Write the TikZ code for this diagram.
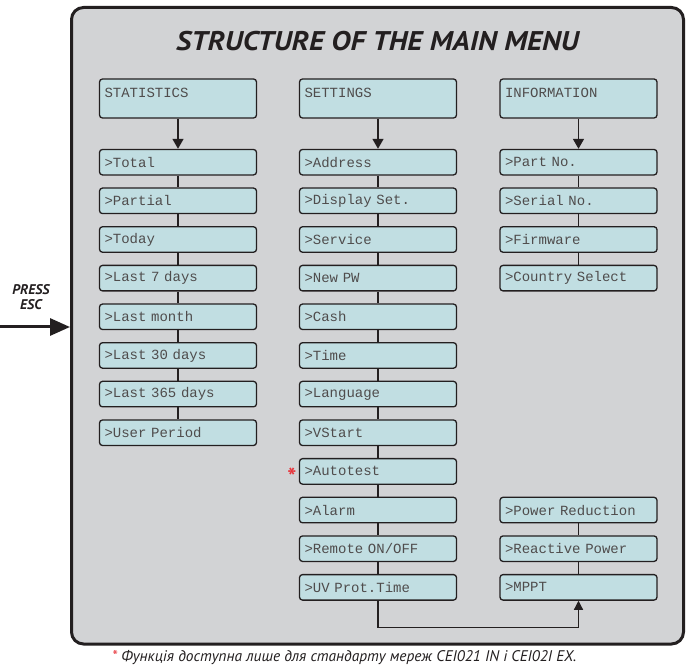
\documentclass[tikz,border=0pt]{standalone}
\usepackage{fontspec}
\setmainfont{PT Sans}
\newfontfamily\lcd{Liberation Mono}
\newfontfamily\titlefont[FakeStretch=1.1]{PT Sans}
\usetikzlibrary{arrows.meta}
\definecolor{bg}{HTML}{D2D3D5}
\definecolor{lcdfill}{HTML}{C1DEE2}
\definecolor{ink}{HTML}{231F20}
\definecolor{starred}{HTML}{E8353C}
\begin{document}
\begin{tikzpicture}[x=1pt,y=-1pt,
  frame/.style={draw=ink, line width=3pt, rounded corners=12pt, fill=bg, inner sep=0pt},
  item/.style={draw=ink, line width=1.3pt, rounded corners=3pt, fill=lcdfill,
    minimum width=157pt, minimum height=25.5pt, text width=147pt, align=left,
    inner sep=0pt, font=\lcd\fontsize{14}{14}\selectfont, text=ink!80},
  header/.style={item, minimum height=39pt, text height=19pt, text depth=20pt},
  link/.style={draw=ink, line width=1.2pt},
  down/.style={draw=ink, line width=1.6pt, -{Triangle[length=10pt,width=11pt]}},
  esc/.style={draw=ink, line width=3pt, -{Triangle[length=20pt,width=17pt]}}
]
\useasboundingbox (0,0) rectangle (686,668);
\fill[white] (0,0) rectangle (686,668);

% outer frame
\node[frame, minimum width=612pt, minimum height=636.5pt] (frame) at (377.5,325.75) {};

% title
\node[anchor=base, inner sep=0pt, font=\titlefont\fontsize{27}{27}\selectfont\bfseries\itshape, text=ink] (title) at (377.5,51) {STRUCTURE OF THE MAIN MENU};

% headers
\node[header] (hs) at (178,98.5) {STATISTICS};
\node[header] (hp) at (378,98.5) {SETTINGS};
\node[header] (hi) at (578.5,98.5) {INFORMATION};

% statistics column
\foreach \t [count=\i from 0] in {Total,Partial,Today,Last 7 days,Last month,Last 30 days,Last 365 days,User Period}
  \node[item] (s\i) at (178,{162.2+38.65*\i}) {>\t};
% settings column
\foreach \t [count=\i from 0] in {Address,Display Set.,Service,New PW,Cash,Time,Language,VStart,Autotest,Alarm,Remote ON/OFF,UV Prot.Time}
  \node[item] (p\i) at (378,{162.2+38.65*\i}) {>\t};
% information column
\foreach \t [count=\i from 0] in {Part No.,Serial No.,Firmware,Country Select}
  \node[item] (n\i) at (578.5,{162.2+38.65*\i}) {>\t};
\foreach \t [count=\i from 9] in {Power Reduction,Reactive Power,MPPT}
  \node[item] (n\i) at (578.5,{162.2+38.65*\i}) {>\t};

% header arrows
\draw[down] (hs) -- (s0);
\draw[down] (hp) -- (p0);
\draw[down] (hi) -- (n0);

% links
\foreach \i in {0,...,6}{\pgfmathtruncatemacro\j{\i+1}\draw[link] (s\i) -- (s\j);}
\foreach \i in {0,...,10}{\pgfmathtruncatemacro\j{\i+1}\draw[link] (p\i) -- (p\j);}
\foreach \i in {0,...,2}{\pgfmathtruncatemacro\j{\i+1}\draw[link] (n\i) -- (n\j);}
\draw[link] (n9) -- (n10);
\draw[link] (n10) -- (n11);

% loop from UV Prot.Time to MPPT
\draw[link, -{Triangle[length=9pt,width=9pt]}] (p11.south) -- ++(0,27) -| (n11.south);

% asterisk at Autotest
\node[text=starred, font=\fontsize{24}{24}\selectfont\bfseries] (star) at (292,477) {*};

% press ESC
\node[font=\fontsize{14}{15}\selectfont\bfseries\itshape, align=center, text=ink] (press) at (31,297) {PRESS\\ESC};
\coordinate (escstart) at (0,327);
\draw[esc] (escstart) -- (escstart -| frame.west);

% footnote
\node[anchor=base west, inner sep=0pt, font=\fontsize{15.4}{15.4}\selectfont\itshape, text=ink] (note) at (112,661)
  {\textcolor{starred}{*} Функція доступна лише для стандарту мереж CEI021 IN і CEI02I EX.};
\end{tikzpicture}
\end{document}
